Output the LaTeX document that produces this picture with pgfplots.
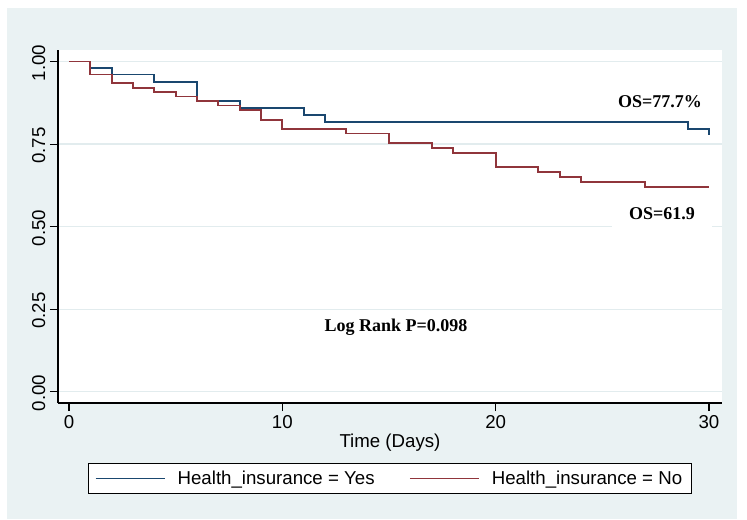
\documentclass[border=0pt]{standalone}
\usepackage{pgfplots}
\pgfplotsset{compat=1.18}
\usepackage{fontspec}
\setmainfont{Liberation Sans}
\newfontfamily\annfont{Liberation Serif}
\definecolor{bgcol}{HTML}{EAF2F3}
\definecolor{gridcol}{HTML}{E2ECEE}
\definecolor{kmblue}{HTML}{1A476F}
\definecolor{kmred}{HTML}{90353B}
\begin{document}
\begin{tikzpicture}
% canvas: 747 x 519 px at 0.75pt per px
\fill[white] (0pt,0pt) rectangle (560.25pt,389.25pt);
\fill[bgcol] (5pt,0pt) rectangle (552.5pt,383pt);
\begin{axis}[
  at={(43.5pt,87pt)}, anchor=south west,
  scale only axis, width=498pt, height=264.75pt,
  xmin=-0.516, xmax=30.61, ymin=-0.0342, ymax=1.035,
  axis background/.style={fill=white},
  axis x line*=bottom, axis y line*=left,
  axis line style={black, line width=0.8pt, -},
  tick align=outside, major tick length=6pt,
  tick style={black, line width=0.8pt},
  xtick={0,10,20,30}, xticklabels={0,10,20,30},
  ytick={0,0.25,0.5,0.75,1}, yticklabels={0.00,0.25,0.50,0.75,1.00},
  yticklabel style={rotate=90, anchor=south, xshift=-1pt},
  ymajorgrids, grid style={gridcol, line width=1pt},
  font=\fontsize{14}{16}\selectfont,
  xlabel={Time (Days)},
  xlabel style={yshift=3pt},
  legend columns=2,
  legend style={at={(0.5,0)}, anchor=north, yshift=-45pt,
    draw=black, line width=0.6pt, fill=white,
    inner xsep=5pt, inner ysep=3.5pt,
    font=\fontsize{14}{16}\selectfont,
    /tikz/every odd column/.append style={column sep=7pt},
    /tikz/every even column/.append style={column sep=24pt}},
  legend cell align=left,
  legend image code/.code={\draw[#1, line width=0.9pt] (0pt,0pt) -- (52pt,0pt);},
]
% Kaplan-Meier estimate, insured patients
\addplot[const plot, draw=kmblue, line width=1.3pt] coordinates {
  (0,1.000) (1,0.980) (2,0.961) (4,0.939) (6,0.881) (8,0.860)
  (11,0.839) (12,0.817) (29,0.795) (30,0.777)
};
\addlegendentry{Health\_insurance = Yes}
% Kaplan-Meier estimate, uninsured patients
\addplot[const plot, draw=kmred, line width=1.3pt] coordinates {
  (0,1.000) (1,0.961) (2,0.935) (3,0.921) (4,0.908) (5,0.894)
  (6,0.881) (7,0.867) (8,0.853) (9,0.823) (10,0.796) (13,0.782)
  (15,0.754) (17,0.738) (18,0.724) (20,0.680) (22,0.666) (23,0.650)
  (24,0.635) (27,0.619) (30,0.619)
};
\addlegendentry{Health\_insurance = No\hspace{6pt}}
\node[font=\annfont\bfseries\fontsize{13.5}{15}\selectfont]
  at (axis cs:27.7,0.879) {OS=77.7\%};
\node[font=\annfont\bfseries\fontsize{13.5}{15}\selectfont, fill=white,
  minimum width=75pt, minimum height=20pt, inner sep=0pt]
  at (axis cs:27.8,0.538) {OS=61.9};
\node[font=\annfont\bfseries\fontsize{13.5}{15}\selectfont]
  at (axis cs:15.33,0.196) {Log Rank P=0.098};
\end{axis}
\end{tikzpicture}
\end{document}
